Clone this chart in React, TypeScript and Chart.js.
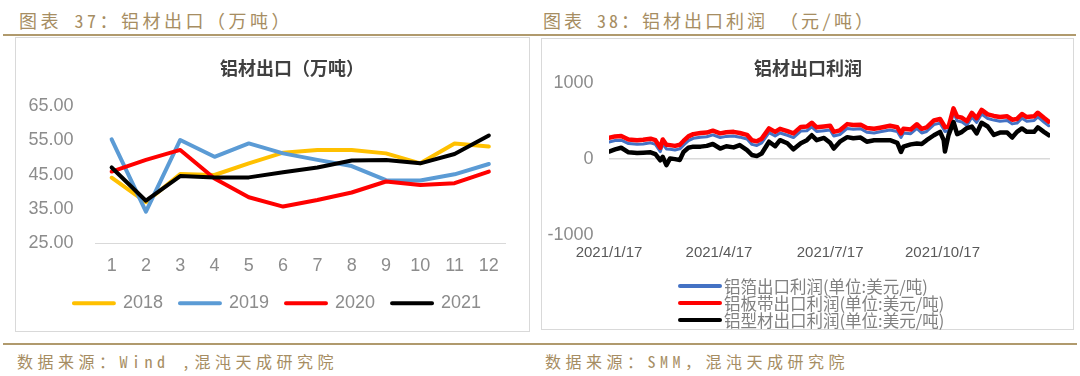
import React, { useEffect, useRef } from "react";
import { Chart, registerables } from "chart.js";

Chart.register(...registerables);

// ---------- Left chart: 铝材出口（万吨） ----------
const MONTHS = ["1", "2", "3", "4", "5", "6", "7", "8", "9", "10", "11", "12"];
const EXP_2018 = [44.1, 37.0, 45.2, 44.9, 48.3, 51.4, 52.2, 52.2, 51.2, 48.3, 54.1, 53.2];
const EXP_2019 = [55.3, 34.2, 55.1, 50.2, 54.1, 51.2, 49.3, 47.5, 43.4, 43.3, 45.1, 48.1];
const EXP_2020 = [45.9, 49.3, 52.2, 43.9, 38.4, 35.7, 37.6, 39.8, 43.0, 42.0, 42.5, 45.9];
const EXP_2021 = [47.1, 37.4, 44.6, 44.2, 44.2, 45.7, 47.1, 49.1, 49.3, 48.3, 51.0, 56.4];
const LEFT_Y_TICKS = [25, 35, 45, 55, 65];

// ---------- Right chart: 铝材出口利润 ----------
// days after 2021/1/17
const DAYS = [
  0, 5, 10, 16, 23, 28, 34, 38, 42, 44, 47, 50, 54, 58, 61, 65, 69, 75, 80, 85,
  91, 96, 102, 107, 113, 117, 121, 125, 131, 136, 140, 146, 151, 157, 162, 166, 170, 176, 181, 184,
  189, 195, 200, 206, 211, 217, 222, 230, 236, 239, 241, 247, 252, 256, 260, 266, 271, 274, 275, 278,
  282, 285, 289, 293, 297, 301, 305, 310, 315, 320, 326, 330, 334, 338, 342, 348, 351, 356, 360,
];
const FOIL = [
  225, 245, 250, 205, 195, 200, 215, 195, 100, 205, 135, 130, 120, 135, 185, 245, 275, 290, 295, 320,
  285, 300, 305, 290, 265, 195, 180, 215, 350, 305, 345, 315, 285, 370, 375, 425, 365, 375, 385, 305,
  325, 405, 395, 400, 355, 345, 360, 385, 365, 285, 345, 335, 405, 345, 365, 455, 475, 395, 365, 375,
  615, 505, 490, 445, 555, 485, 595, 535, 515, 500, 510, 465, 475, 540, 500, 510, 557, 490, 440,
];
const SHEET = [
  280, 300, 305, 260, 250, 255, 270, 250, 150, 260, 190, 185, 175, 190, 240, 300, 330, 345, 350, 375,
  340, 355, 360, 345, 320, 250, 235, 270, 405, 360, 400, 370, 340, 425, 430, 480, 420, 430, 440, 360,
  380, 462, 450, 455, 410, 400, 415, 440, 420, 340, 400, 390, 460, 400, 420, 510, 530, 450, 420, 430,
  670, 560, 545, 500, 610, 540, 650, 590, 570, 555, 565, 520, 530, 595, 555, 565, 612, 545, 495,
];
const PROFILE = [
  100, 128, 150, 90, 80, 85, 90, 66, -15, 30, -80, 10, 0, -10, 95, 150, 165, 165, 175, 200,
  140, 170, 155, 185, 120, 55, 40, 75, 230, 170, 250, 210, 130, 210, 250, 315, 250, 280, 215, 140,
  230, 290, 275, 285, 230, 250, 250, 250, 215, 95, 165, 195, 205, 200, 250, 315, 360, 250, 100, 320,
  490, 330, 360, 410, 430, 340, 480, 430, 320, 350, 350, 285, 360, 405, 360, 360, 420, 360, 315,
];
const RIGHT_X_TICK_DAYS = [0, 90, 181, 273];
const RIGHT_X_TICK_LABELS = ["2021/1/17", "2021/4/17", "2021/7/17", "2021/10/17"];
const RIGHT_Y_TICKS = [-1000, 0, 1000];
const RIGHT_LEGEND = [
  { label: "铝箔出口利润(单位:美元/吨)", color: "#4472C4" },
  { label: "铝板带出口利润(单位:美元/吨)", color: "#FF0000" },
  { label: "铝型材出口利润(单位:美元/吨)", color: "#000000" },
];

const CHART_FONT = "'Liberation Sans', 'Noto Sans CJK SC', sans-serif";
const CJK_FONT = "'Noto Sans CJK SC', 'Liberation Sans', sans-serif";
const HEAD_FONT = "'Noto Sans Mono CJK SC', 'Noto Sans CJK SC', sans-serif";
const TAN_TEXT = "#a68d62";
const TAN_LINE = "#b09a6d";
const AXIS_GRAY = "#8c8c8c";

// shifts the bottom legend horizontally so it sits where the reference has it
const legendShift = {
  id: "legendShift",
  afterLayout(chart: any, _args: any, opts: any) {
    const dx = (opts && opts.dx) || 0;
    if (chart.legend && dx) {
      chart.legend.left += dx;
      chart.legend.right += dx;
    }
  },
};

function LeftChart() {
  const ref = useRef<HTMLCanvasElement>(null);
  useEffect(() => {
    if (!ref.current) return;
    const mk = (label: string, data: number[], color: string, order: number) => ({
      label,
      data,
      borderColor: color,
      backgroundColor: color,
      borderWidth: 4,
      order,
    });
    const chart = new Chart(ref.current, {
      type: "line",
      data: {
        labels: MONTHS,
        datasets: [
          mk("2018", EXP_2018, "#FFC000", 4),
          mk("2019", EXP_2019, "#5B9BD5", 3),
          mk("2020", EXP_2020, "#FF0000", 2),
          mk("2021", EXP_2021, "#000000", 1),
        ],
      },
      plugins: [legendShift],
      options: {
        animation: false,
        responsive: false,
        maintainAspectRatio: false,
        layout: { padding: { left: 10, right: 23, top: 68, bottom: 8.7 } },
        elements: {
          point: { radius: 0, hoverRadius: 0 },
          line: { tension: 0, borderCapStyle: "round", borderJoinStyle: "round" },
        },
        plugins: {
          legendShift: { dx: 11.5 },
          title: { display: false },
          tooltip: { enabled: false },
          legend: {
            position: "bottom",
            labels: {
              boxWidth: 40,
              boxHeight: 0,
              padding: 17,
              color: AXIS_GRAY,
              font: { size: 18, family: CHART_FONT },
              sort: (a: any, b: any) => a.datasetIndex - b.datasetIndex,
            },
          },
        },
        scales: {
          x: {
            offset: true,
            grid: { display: false, drawTicks: false, offset: true },
            border: { display: false },
            ticks: {
              color: AXIS_GRAY,
              font: { size: 18, family: CHART_FONT },
              padding: 12,
              maxRotation: 0,
              autoSkip: false,
            },
            afterFit: (s: any) => {
              s.height = 34;
            },
          },
          y: {
            min: 25,
            max: 65,
            afterBuildTicks: (s: any) => {
              s.ticks = LEFT_Y_TICKS.map((v) => ({ value: v }));
            },
            grid: {
              drawTicks: false,
              lineWidth: 1,
              color: (ctx: any) => (ctx.tick && ctx.tick.value === 25 ? "#d9d9d9" : "rgba(0,0,0,0)"),
            },
            border: { display: false },
            ticks: {
              color: AXIS_GRAY,
              font: { size: 18, family: CHART_FONT },
              padding: 21,
              callback: (v: any) => Number(v).toFixed(2),
            },
            afterFit: (s: any) => {
              s.width = 68.5;
            },
          },
        },
      } as any,
    });
    return () => chart.destroy();
  }, []);
  return <canvas ref={ref} width={513} height={293} style={{ width: 513, height: 293, display: "block" }} />;
}

function RightChart() {
  const ref = useRef<HTMLCanvasElement>(null);
  useEffect(() => {
    if (!ref.current) return;
    const pts = (vals: number[]) => DAYS.map((d, i) => ({ x: d, y: vals[i] }));
    const chart = new Chart(ref.current, {
      type: "line",
      data: {
        datasets: [
          { label: RIGHT_LEGEND[0].label, data: pts(FOIL), borderColor: "#4472C4", backgroundColor: "#4472C4", borderWidth: 3, order: 2 },
          { label: RIGHT_LEGEND[1].label, data: pts(SHEET), borderColor: "#FF0000", backgroundColor: "#FF0000", borderWidth: 4.5, order: 1 },
          { label: RIGHT_LEGEND[2].label, data: pts(PROFILE), borderColor: "#000000", backgroundColor: "#000000", borderWidth: 4.5, order: 0 },
        ],
      },
      options: {
        animation: false,
        responsive: false,
        maintainAspectRatio: false,
        layout: { padding: { left: 0, right: 23, top: 44.3, bottom: 54 } },
        elements: {
          point: { radius: 0, hoverRadius: 0 },
          line: { tension: 0, borderCapStyle: "round", borderJoinStyle: "round" },
        },
        plugins: {
          title: { display: false },
          tooltip: { enabled: false },
          legend: { display: false },
        },
        scales: {
          x: {
            type: "linear",
            min: 0,
            max: 361,
            afterBuildTicks: (s: any) => {
              s.ticks = RIGHT_X_TICK_DAYS.map((v) => ({ value: v }));
            },
            grid: { display: false, drawTicks: false },
            border: { display: false },
            ticks: {
              color: "#595959",
              font: { size: 15, family: CHART_FONT },
              padding: 8.4,
              maxRotation: 0,
              autoSkip: false,
              callback: (v: any) => {
                const i = RIGHT_X_TICK_DAYS.indexOf(Number(v));
                return i >= 0 ? RIGHT_X_TICK_LABELS[i] : "";
              },
            },
            afterFit: (s: any) => {
              s.height = 40;
            },
          },
          y: {
            min: -1000,
            max: 1000,
            afterBuildTicks: (s: any) => {
              s.ticks = RIGHT_Y_TICKS.map((v) => ({ value: v }));
            },
            grid: {
              drawTicks: false,
              lineWidth: 1.5,
              color: (ctx: any) => (ctx.tick && ctx.tick.value === 0 ? "#d9d9d9" : "rgba(0,0,0,0)"),
            },
            border: { display: false },
            ticks: {
              color: AXIS_GRAY,
              font: { size: 18, family: CHART_FONT },
              padding: 15.4,
              callback: (v: any) => String(v),
            },
            afterFit: (s: any) => {
              s.width = 67;
            },
          },
        },
      } as any,
    });
    return () => chart.destroy();
  }, []);
  return <canvas ref={ref} width={531} height={290} style={{ width: 531, height: 290, display: "block" }} />;
}

const abs = (left: number, top: number, extra: React.CSSProperties = {}): React.CSSProperties => ({
  position: "absolute",
  left,
  top,
  ...extra,
});

export default function App() {
  return (
    <div
      style={{
        position: "fixed",
        left: 0,
        top: 0,
        width: 1080,
        height: 376,
        background: "#ffffff",
        overflow: "hidden",
      }}
    >
      {/* headers */}
      <div
        style={abs(19, 8, {
          fontFamily: HEAD_FONT,
          fontSize: 18,
          lineHeight: "24px",
          letterSpacing: 3.5,
          color: TAN_TEXT,
          whiteSpace: "nowrap",
        })}
      >
        图表 37：铝材出口（万吨）
      </div>
      <div
        style={abs(543, 8, {
          fontFamily: HEAD_FONT,
          fontSize: 18,
          lineHeight: "24px",
          letterSpacing: 3,
          color: TAN_TEXT,
          whiteSpace: "nowrap",
        })}
      >
        图表 38：铝材出口利润 （元/吨）
      </div>
      <div style={abs(3, 34, { width: 1073, height: 2, background: TAN_LINE })} />

      {/* chart boxes */}
      <div
        style={abs(15, 37, {
          width: 515,
          height: 295,
          border: "1px solid #d9d9d9",
          boxSizing: "border-box",
        })}
      />
      <div
        style={abs(541, 38, {
          width: 533,
          height: 292,
          border: "1px solid #d9d9d9",
          boxSizing: "border-box",
        })}
      />

      <div style={abs(16, 38)}>
        <LeftChart />
      </div>
      <div style={abs(542, 39)}>
        <RightChart />
      </div>

      {/* chart titles */}
      <div
        style={abs(142, 54, {
          width: 300,
          textAlign: "center",
          fontFamily: CJK_FONT,
          fontWeight: 700,
          fontSize: 18,
          lineHeight: "26px",
          color: "#404040",
        })}
      >
        铝材出口（万吨）
      </div>
      <div
        style={abs(658, 54, {
          width: 300,
          textAlign: "center",
          fontFamily: CJK_FONT,
          fontWeight: 700,
          fontSize: 18,
          lineHeight: "26px",
          color: "#404040",
        })}
      >
        铝材出口利润
      </div>

      {/* right legend */}
      {RIGHT_LEGEND.map((item, i) => {
        const cy = 286 + i * 17;
        return (
          <React.Fragment key={item.label}>
            <div
              style={abs(678, cy - 2, {
                width: 44,
                height: 4,
                borderRadius: 2,
                background: item.color,
              })}
            />
            <div
              style={abs(724, cy - 10, {
                fontFamily: CJK_FONT,
                fontSize: 16.5,
                lineHeight: "20px",
                color: "#808080",
                whiteSpace: "nowrap",
              })}
            >
              {item.label}
            </div>
          </React.Fragment>
        );
      })}

      {/* bottom line & sources */}
      <div style={abs(3, 343, { width: 1074, height: 2, background: TAN_LINE })} />
      <div
        style={abs(17, 349, {
          fontFamily: HEAD_FONT,
          fontSize: 16,
          lineHeight: "24px",
          letterSpacing: 4.5,
          color: TAN_TEXT,
          whiteSpace: "nowrap",
        })}
      >
        数据来源：Wind ,混沌天成研究院
      </div>
      <div
        style={abs(545, 349, {
          fontFamily: HEAD_FONT,
          fontSize: 16,
          lineHeight: "24px",
          letterSpacing: 4.5,
          color: TAN_TEXT,
          whiteSpace: "nowrap",
        })}
      >
        数据来源：SMM，混沌天成研究院
      </div>
    </div>
  );
}
